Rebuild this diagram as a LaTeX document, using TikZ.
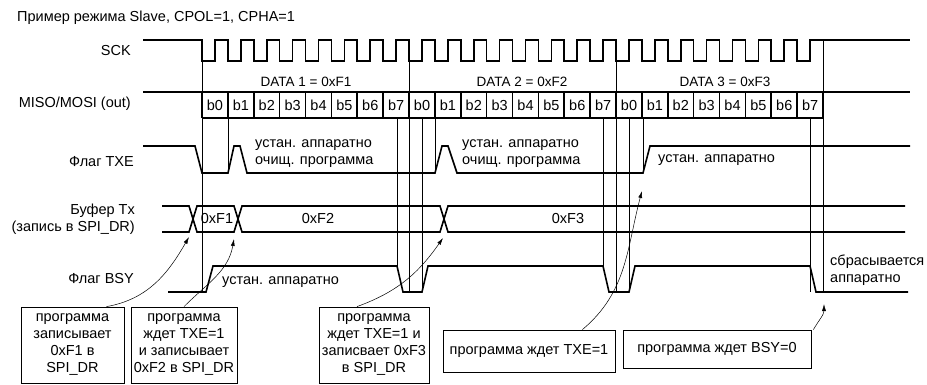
\documentclass[tikz,border=0pt]{standalone}
\usepackage{fontspec}
\setmainfont{Liberation Sans}
\usetikzlibrary{calc,arrows.meta}

\tikzset{
  sig/.style={line width=1.6pt},
  guide/.style={line width=0.8pt},
  txt/.style={inner sep=0pt},
  lbl/.style={txt,anchor=east,align=right},
  note/.style={draw,line width=0.8pt,inner sep=0pt,align=center},
  hint/.style={line width=0.5pt,-{Latex[length=7pt,width=4pt]}},
}

\begin{document}
\begin{tikzpicture}[x=1pt,y=-1pt,font=\fontsize{14.5}{17}\selectfont]
  \useasboundingbox (0,0) rectangle (927,385);

  \node[txt,anchor=west] (title) at (17,18) {Пример режима Slave, CPOL=1, CPHA=1};

  \node[lbl] (sck) at (131,51) {SCK};
  \node[lbl] (miso) at (131,104) {MISO/MOSI (out)};
  \node[lbl] (txe) at (134,162) {Флаг TXE};
  \node[lbl] (buf) at (135,219) {Буфер Tx\\(запись в SPI\_DR)};
  \node[lbl] (bsy) at (134,279) {Флаг BSY};

  % SCK
  \draw[sig] (143,40) -- (202,40)
    \foreach \k in {0,...,23} {
      -- ({202+25.875*\k},61) -- ({215+25.875*\k},61)
      -- ({215+25.875*\k},40) -- ({227.875+25.875*\k},40)
    } -- (910,40);

  % MISO/MOSI
  \draw[sig] (143,92) -- (910,92);
  \draw[sig] (202,118) -- (823,118);
  \foreach \k in {0,...,24}
    \draw[sig] ({202+25.875*\k},92) -- ({202+25.875*\k},118);
  \foreach \d in {0,1,2} {
    \foreach \b in {0,...,7} {
      \node[txt] (b\d\b) at ({215+25.875*(8*\d+\b)},105) {b\b};
    }
  }
  \node[txt,font=\fontsize{13.5}{16}\selectfont] (d1) at (306,82) {DATA 1 = 0xF1};
  \node[txt,font=\fontsize{13.5}{16}\selectfont] (d2) at (522,82) {DATA 2 = 0xF2};
  \node[txt,font=\fontsize{13.5}{16}\selectfont] (d3) at (725,82) {DATA 3 = 0xF3};

  \foreach \x/\e in {202/292,409/292,616/292,823/292}
    \draw[guide] (\x,40) -- (\x,\e);
  \foreach \x/\e in {228/173,397/266,422/292,435/173,603/266,629/292,643/173,810/292}
    \draw[guide] (\x,118) -- (\x,\e);

  % TXE
  \draw[sig] (143,146) -- (195,146) -- (202,173) -- (228,173) -- (234,146)
    -- (240,146) -- (247,173) -- (435,173) -- (442,146) -- (448,146)
    -- (457,173) -- (643,173) -- (650,146) -- (910,146);
  \node[txt,anchor=west,align=left] (tl1) at (255,154) {устан. аппаратно\\очищ. программа};
  \node[txt,anchor=west,align=left] (tl2) at (462,154) {устан. аппаратно\\очищ. программа};
  \node[txt,anchor=west] (tl3) at (658,160) {устан. аппаратно};

  % Tx buffer
  \draw[sig] (162,206) -- (189,206) -- (197,232) -- (234,232) -- (242,206)
    -- (440,206) -- (448,232) -- (905,232);
  \draw[sig] (162,232) -- (189,232) -- (197,206) -- (234,206) -- (242,232)
    -- (440,232) -- (448,206) -- (905,206);
  \node[txt] (v1) at (217,219) {0xF1};
  \node[txt] (v2) at (318,219) {0xF2};
  \node[txt] (v3) at (568,219) {0xF3};

  % BSY
  \draw[sig] (168,292) -- (206,292) -- (213,266) -- (397,266) -- (403,292)
    -- (422,292) -- (428,266) -- (603,266) -- (609,292) -- (629,292)
    -- (635,266) -- (810,266) -- (816,292) -- (908,292);
  \node[txt,anchor=west] (bl1) at (222,282) {устан. аппаратно};
  \node[txt,anchor=west,align=left] (bl2) at (830,270) {сбрасывается\\аппаратно};

  \node[note,minimum width=103pt,minimum height=76pt] (n1) at (72.5,345) {программа\\записывает\\0xF1 в\\SPI\_DR};
  \node[note,minimum width=106pt,minimum height=76pt] (n2) at (184,345) {программа\\ждет TXE=1\\и записывает\\0xF2 в SPI\_DR};
  \node[note,minimum width=110pt,minimum height=76pt] (n3) at (374,345) {программа\\ждет TXE=1 и\\записвает 0xF3\\в SPI\_DR};
  \node[note,minimum width=172pt,minimum height=42pt] (n4) at (529,351) {программа ждет TXE=1};
  \node[note,minimum width=188pt,minimum height=38pt] (n5) at (717,349) {программа ждет BSY=0};

  \coordinate (x1) at (189,237);
  \coordinate (x2) at (234,239);
  \coordinate (x3) at (443,238);
  \coordinate (r1) at (642,191);
  \coordinate (f1) at (824,304);
  \draw[hint] ([xshift=34pt]n1.north) to[out=10,in=240] (x1);
  \draw[hint] (n2.north) to[out=45,in=260] (x2);
  \draw[hint] ([xshift=-17pt]n3.north) to[out=20,in=235] (x3);
  \draw[hint] ([xshift=-33pt]n4.north east) to[out=40,in=255] (r1);
  \draw[hint] ([xshift=2pt]n5.north east) to[out=60,in=270] (f1);
\end{tikzpicture}
\end{document}
